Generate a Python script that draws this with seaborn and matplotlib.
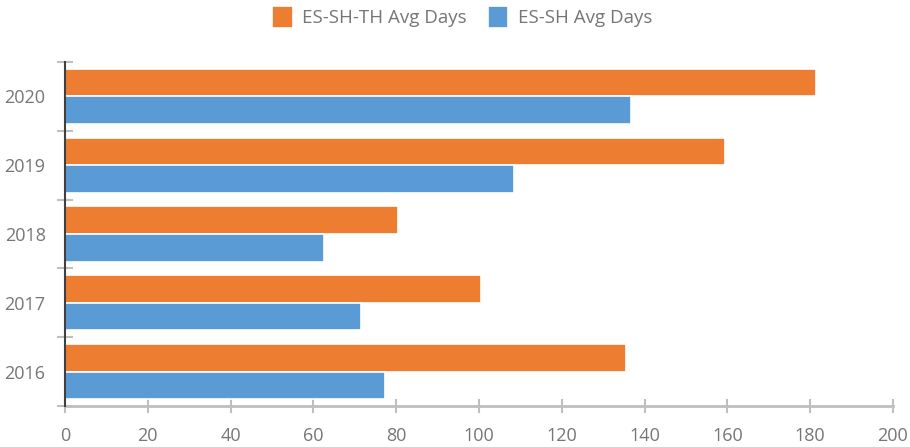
import matplotlib
matplotlib.use("Agg")
import matplotlib.pyplot as plt
import numpy as np
import pandas as pd
import seaborn as sns

# values
years = ["2020", "2019", "2018", "2017", "2016"]
es_sh_th_days = [181.5, 159.4, 80.4, 100.5, 135.6]
es_sh_days = [136.6, 108.5, 62.5, 71.4, 77.3]
series_names = ["ES-SH-TH Avg Days", "ES-SH Avg Days"]
series_colors = ["#ED7D31", "#5B9BD5"]
x_ticks = list(range(0, 201, 20))

TEXT_COLOR = "#767676"
GRID_GRAY = "#BFBFBF"

sns.set_theme(style="white")
plt.rcParams["font.family"] = ["Open Sans", "DejaVu Sans"]

df = pd.DataFrame({
    "year": years * 2,
    "days": es_sh_th_days + es_sh_days,
    "series": [series_names[0]] * len(years) + [series_names[1]] * len(years),
})

fig = plt.figure(figsize=(9.1, 4.47), dpi=100)
ax = fig.add_axes([0.0714, 0.0917, 0.9099, 0.7696])

sns.barplot(data=df, y="year", x="days", hue="series", orient="h",
            order=years, hue_order=series_names, palette=series_colors,
            width=0.8, edgecolor="white", linewidth=1.2, saturation=1,
            errorbar=None, ax=ax)

ax.set_xlim(0, 200)
ax.set_ylim(len(years) - 0.5, -0.5)
ax.set_xticks(x_ticks)
ax.set_xlabel("")
ax.set_ylabel("")

# spines
for side in ["top", "right"]:
    ax.spines[side].set_visible(False)
ax.spines["left"].set_color("#404040")
ax.spines["left"].set_linewidth(1.5)
ax.spines["bottom"].set_color(GRID_GRAY)
ax.spines["bottom"].set_linewidth(2)
ax.spines["left"].set_zorder(3)

# x ticks cross the axis line
ax.tick_params(axis="x", which="major", bottom=True, direction="inout",
               length=10, width=1.5, color=GRID_GRAY, labelsize=13,
               labelcolor=TEXT_COLOR, pad=10)

# y labels in the middle of the bands, tick marks on the band edges
ax.set_yticks(np.arange(len(years) + 1) - 0.5, minor=True)
ax.tick_params(axis="y", which="major", left=True, length=0, labelsize=13,
               labelcolor=TEXT_COLOR, pad=14)
ax.tick_params(axis="y", which="minor", left=True, direction="inout",
               length=11, width=1.5, color=GRID_GRAY)

ax.legend_.remove()
handles, labels = ax.get_legend_handles_labels()
fig.legend(handles[:2], labels[:2], loc="center", bbox_to_anchor=(0.508, 0.962),
           ncol=2, frameon=False, handlelength=1.1, handleheight=1.4,
           handletextpad=0.5, columnspacing=1.1, fontsize=13.5,
           labelcolor=TEXT_COLOR)

fig.savefig("out.png", dpi=100)
